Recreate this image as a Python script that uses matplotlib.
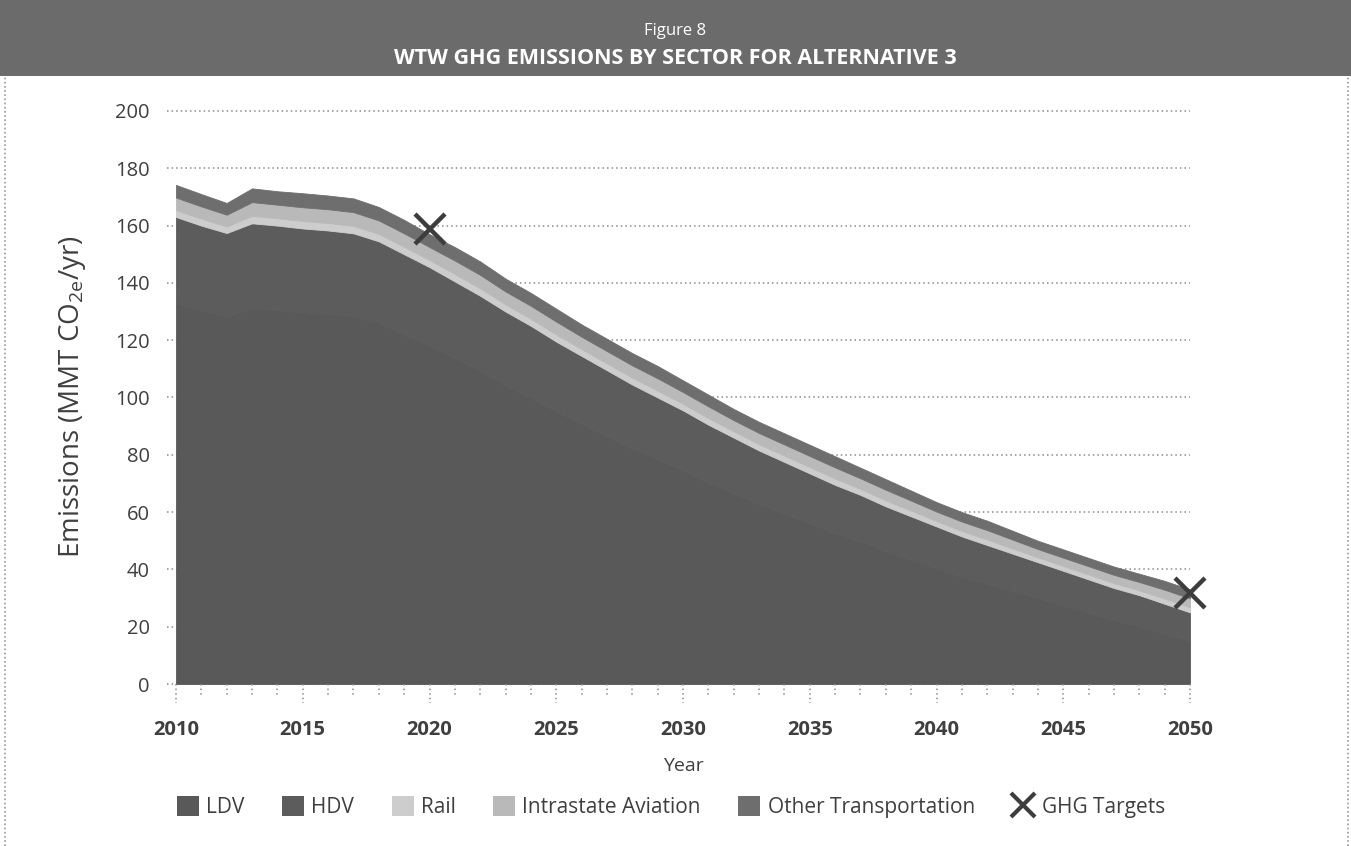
import matplotlib
matplotlib.use("Agg")
import matplotlib.pyplot as plt
from matplotlib.patches import Patch, Rectangle
from matplotlib.lines import Line2D
import matplotlib.transforms as mtransforms

plt.rcParams['font.family'] = ['Open Sans', 'DejaVu Sans']
plt.rcParams['mathtext.fontset'] = 'custom'
plt.rcParams['mathtext.rm'] = 'Open Sans'

years = list(range(2010, 2051))

# emissions by sector, MMT CO2e per year
ldv = [133.0, 130.5, 128.4, 131.3, 130.5, 129.7, 129.3, 128.5, 126.1, 122.1,
       118.1, 113.7, 109.3, 104.4, 100.0, 95.2, 90.9, 86.6, 82.3, 78.5,
       74.7, 70.4, 66.6, 62.8, 59.5, 56.1, 52.7, 49.8, 46.4, 43.5,
       40.5, 37.5, 35.0, 32.5, 30.0, 27.5, 24.9, 22.3, 20.2, 17.6, 15.0]
hdv = [30.0, 29.5, 29.0, 29.5, 29.5, 29.3, 29.0, 28.8, 28.4, 27.9,
       27.4, 26.8, 26.2, 25.6, 25.0, 24.3, 23.6, 22.9, 22.2, 21.5,
       20.8, 20.1, 19.4, 18.7, 18.0, 17.4, 16.8, 16.2, 15.6, 15.0,
       14.5, 14.0, 13.5, 13.0, 12.5, 12.0, 11.6, 11.2, 10.8, 10.4, 10.0]
rail = [2.4, 2.4, 2.3, 2.6, 2.6, 2.6, 2.6, 2.6, 2.6, 2.6,
        2.5, 2.6, 2.6, 2.5, 2.5, 2.5, 2.4, 2.4, 2.4, 2.4,
        2.3, 2.3, 2.2, 2.2, 2.2, 2.2, 2.2, 2.1, 2.1, 2.0,
        1.9, 1.9, 1.9, 1.8, 1.7, 1.7, 1.7, 1.7, 1.7, 1.8, 1.8]
aviation = [4.4, 4.3, 4.1, 4.8, 4.7, 4.8, 4.8, 4.8, 4.7, 4.7,
            4.5, 4.7, 4.7, 4.5, 4.5, 4.5, 4.3, 4.3, 4.3, 4.3,
            4.1, 4.1, 3.9, 3.9, 3.9, 3.9, 3.9, 3.7, 3.7, 3.5,
            3.3, 3.3, 3.3, 3.1, 2.9, 2.9, 2.9, 2.9, 2.9, 3.1, 3.1]
other = [4.4, 4.3, 4.1, 4.8, 4.7, 4.9, 4.8, 4.8, 4.7, 4.7,
         4.5, 4.7, 4.7, 4.5, 4.5, 4.5, 4.3, 4.3, 4.3, 4.3,
         4.1, 4.1, 3.9, 3.9, 3.9, 3.9, 3.9, 3.7, 3.7, 3.5,
         3.3, 3.3, 3.3, 3.1, 2.9, 2.9, 2.9, 2.9, 2.9, 3.1, 3.1]

target_years = [2020, 2050]
target_values = [158.7, 31.8]

sector_names = ['LDV', 'HDV', 'Rail', 'Intrastate Aviation', 'Other Transportation']
sector_colors = ['#595959', '#5c5c5c', '#cdcdcd', '#b9b9b9', '#6e6e6e']
yticks = list(range(0, 201, 20))
xticks_major = list(range(2010, 2051, 5))

W, H = 1351, 846
text_col = '#3f3f3f'
band_h = 76

fig = plt.figure(figsize=(W / 100, H / 100), dpi=100)

# header band with title
fig.patches.append(Rectangle((0, 1 - band_h / H), 1, band_h / H, transform=fig.transFigure,
                             facecolor='#6b6b6b', edgecolor='none', zorder=0))
fig.text(0.5, 1 - 31 / H, 'Figure 8', color='white', fontsize=12,
         ha='center', va='center')
fig.text(0.5, 1 - 58 / H, 'WTW GHG EMISSIONS BY SECTOR FOR ALTERNATIVE 3',
         color='white', fontsize=15.5, fontweight='bold', ha='center', va='center')

# dotted frame around the chart body
for x in (5 / W, 1348 / W):
    fig.lines.append(Line2D([x, x], [0, 1 - band_h / H], transform=fig.transFigure,
                            color='#9a9a9a', linestyle=(0, (1, 1.5)), linewidth=1.2))

left, right, bottom, top = 176, 1190, 684, 111
ax = fig.add_axes([left / W, 1 - bottom / H, (right - left) / W, (bottom - top) / H])

polys = ax.stackplot(years, ldv, hdv, rail, aviation, other, colors=sector_colors,
                     zorder=2)
# stroke each area in its own colour so the seams between layers close up
for p, c in zip(polys, sector_colors):
    p.set_edgecolor(c)
    p.set_linewidth(0.6)

ax.plot(target_years, target_values, linestyle='none', marker='x', markersize=21,
        markeredgewidth=3.2, color='#3d3d3d', zorder=4, clip_on=False)

ax.set_xlim(2010, 2050)
ax.set_ylim(0, 200)
for s in ax.spines.values():
    s.set_visible(False)

# dotted gridlines that run out past the left edge as ticks
ext = 9 / (right - left)
for v in yticks:
    ax.plot([-ext, 1], [v, v], transform=ax.get_yaxis_transform(),
            color='#8a8a8a', linestyle=(0, (1, 2)), linewidth=1.1,
            clip_on=False, zorder=1)

# dotted year ticks below the axis
trans = mtransforms.blended_transform_factory(ax.transData, ax.transAxes)
h_minor = 11 / (bottom - top)
h_major = 19 / (bottom - top)
for yr in years:
    h = h_major if yr in xticks_major else h_minor
    ax.plot([yr, yr], [0, -h], transform=trans, color='#8a8a8a',
            linestyle=(0, (1, 2)), linewidth=1.1, clip_on=False)

ax.set_yticks(yticks)
ax.set_xticks(xticks_major)
ax.tick_params(axis='y', length=0, pad=19, labelsize=14.5, labelcolor=text_col)
ax.tick_params(axis='x', length=0, pad=26, labelsize=14.5, labelcolor=text_col)
for lab in ax.get_xticklabels():
    lab.set_fontweight('bold')

ax.set_xlabel('Year', fontsize=14, color=text_col, labelpad=12)
fig.text(73 / W, 1 - 397 / H, r'Emissions (MMT CO$\mathregular{_{2e}}$/yr)',
         rotation=90, fontsize=20, color=text_col, ha='center', va='center')

handles = [Patch(facecolor=c, edgecolor='none') for c in sector_colors]
handles.append(Line2D([], [], linestyle='none', marker='x', markersize=17,
                      markeredgewidth=3, color='#3d3d3d'))
labels = sector_names + ['GHG Targets']
fig.legend(handles, labels, loc='center', bbox_to_anchor=(671 / W, 1 - 807 / H),
           ncol=6, frameon=False, fontsize=15, labelcolor=text_col,
           handlelength=1.05, handleheight=1.1, handletextpad=0.35,
           columnspacing=1.8)

fig.savefig('out.png', dpi=100)
